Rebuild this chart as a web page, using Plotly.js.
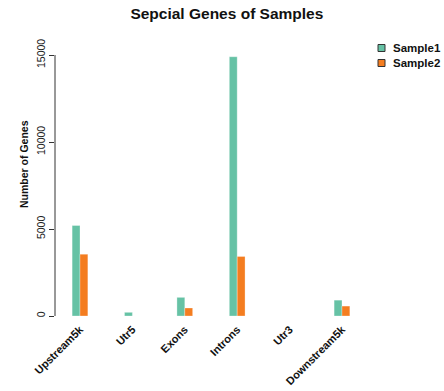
<!DOCTYPE html>
<html>
<head>
<meta charset="utf-8">
<script src="https://cdn.plot.ly/plotly-3.0.1.min.js"></script>
<style>html,body{margin:0;padding:0;background:#fff;}#chart{width:444px;height:391px;}</style>
</head>
<body>
<div id="chart"></div>
<script>
const categories = ["Upstream5k", "Utr5", "Exons", "Introns", "Utr3", "Downstream5k"];
const sample1 = [5200, 210, 1070, 14900, 0, 910];
const sample2 = [3550, 0, 460, 3420, 0, 570];
const seriesNames = ["Sample1", "Sample2"];
const yTicks = [0, 5000, 10000, 15000];

const colors = ["#66C2A5", "#F47D20"];
const traces = [sample1, sample2].map((vals, i) => ({
  type: "bar",
  name: seriesNames[i],
  x: categories,
  y: vals,
  showlegend: false,
  marker: {color: colors[i], line: {color: "rgba(255,255,255,0.5)", width: 0.6}},
  hoverinfo: "none"
}));

// legend drawn as small squares + text (R-style legend)
const legendShapes = seriesNames.map((n, i) => ({
  type: "rect", xref: "paper", yref: "paper",
  x0: (378 - 55) / 389, x1: (385 - 55) / 389,
  y0: (320 - (48 + 15 * i) - 3.5) / 280, y1: (320 - (48 + 15 * i) + 3.5) / 280,
  fillcolor: colors[i], line: {color: "#333", width: 1}
}));
const legendAnnots = seriesNames.map((n, i) => ({
  text: "<b>" + n + "</b>", xref: "paper", yref: "paper",
  x: (391 - 55) / 389, xanchor: "left",
  y: (320 - (48 + 15 * i)) / 280, yanchor: "middle",
  showarrow: false, font: {size: 11.5, color: "#111"}
}));

const layout = {
  width: 444, height: 391,
  margin: {l: 55, r: 0, t: 40, b: 71},
  paper_bgcolor: "#fff", plot_bgcolor: "#fff",
  font: {family: "Liberation Sans, Arial, sans-serif", color: "#000"},
  title: {text: "<b>Sepcial Genes of Samples</b>", font: {size: 15.5, color: "#111"}, x: 0.511, xanchor: "center", y: 0.966, yanchor: "middle"},
  barmode: "group",
  bargap: 0.70,
  bargroupgap: 0,
  showlegend: false,
  xaxis: {
    type: "category",
    range: [-0.477, 6.947],
    showline: false, showgrid: false, zeroline: false,
    ticks: "", tickangle: -45, ticklabelstandoff: 0,
    tickfont: {size: 11, color: "#111", weight: "bold"}
  },
  yaxis: {
    range: [-230, 15862],
    showline: false, showgrid: false, zeroline: false,
    tickvals: yTicks, ticktext: yTicks.map(String),
    ticks: "outside", ticklen: 5, tickcolor: "#333",
    tickangle: -90,
    tickfont: {size: 10.5, color: "#222"}
  },
  annotations: [{
    text: "<b>Number of Genes</b>", xref: "paper", yref: "paper",
    x: (24 - 55) / 389, xanchor: "center", y: (320 - 164) / 280, yanchor: "middle",
    textangle: -90, showarrow: false, font: {size: 10.5, color: "#111"}
  }].concat(legendAnnots),
  shapes: [{
    type: "line", xref: "paper", x0: 0, x1: 0, yref: "y", y0: yTicks[0], y1: yTicks[yTicks.length - 1],
    line: {color: "#333", width: 1}
  }].concat(legendShapes)
};

Plotly.newPlot("chart", traces, layout, {staticPlot: true, displayModeBar: false});
</script>
</body>
</html>
